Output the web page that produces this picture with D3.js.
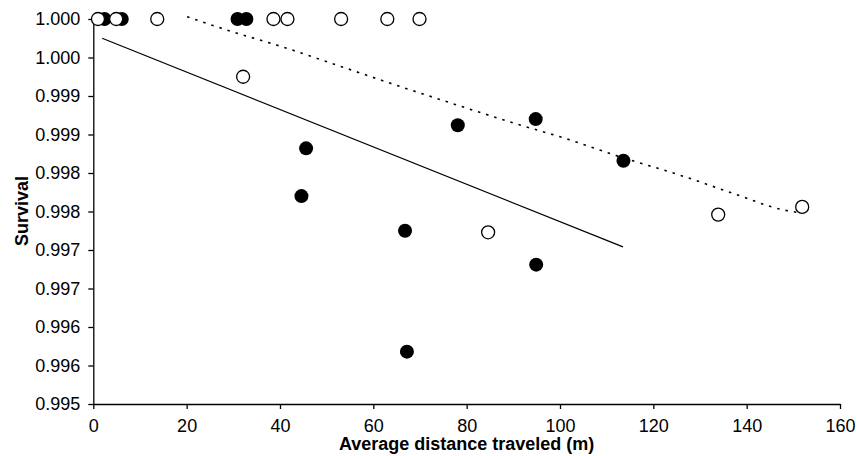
<!DOCTYPE html>
<html><head><meta charset="utf-8">
<script src="https://cdn.jsdelivr.net/npm/d3@7"></script>
<style>body{margin:0;background:#fff;} svg{display:block;}</style>
</head><body>
<svg id="c" width="857" height="456"></svg>
<script>
// Data
const openX = [1.0, 4.9, 13.7, 38.6, 41.6, 53.1, 63.0, 69.9, 32.1, 84.6, 133.9, 151.9];
const openY = [1.0, 1.0, 1.0, 1.0, 1.0, 1.0, 1.0, 1.0, 0.99925, 0.99723, 0.99746, 0.99756];
const filledX = [2.4, 6.1, 30.9, 32.8, 45.6, 78.1, 94.8, 113.6, 44.6, 66.8, 94.9, 67.2];
const filledY = [1.0, 1.0, 1.0, 1.0, 0.99832, 0.99862, 0.99870, 0.99816, 0.99770, 0.99725, 0.99681, 0.99568];
const trendX = [1.9, 113.5];
const trendY = [0.99975, 0.99704];
const curveX = [20.1, 30.0, 39.4, 50.8, 65.4, 78.6, 90.0, 101.6, 112.9, 125.8, 136.9, 147.9, 151.9];
const curveY = [1.00003, 0.99983, 0.99966, 0.99943, 0.99913, 0.99887, 0.99865, 0.99844, 0.99821, 0.99797, 0.99774, 0.99752, 0.99748];
const xTicks = [0, 20, 40, 60, 80, 100, 120, 140, 160];
const yTicks = [0.995, 0.9955, 0.996, 0.9965, 0.997, 0.9975, 0.998, 0.9985, 0.999, 0.9995, 1.0];
const yTickLabels = ["0.995", "0.996", "0.996", "0.997", "0.997", "0.998", "0.998", "0.999", "0.999", "1.000", "1.000"];

const svg = d3.select("#c");
const x = d3.scaleLinear().domain([0, 160]).range([93.3, 840]);
const y = d3.scaleLinear().domain([0.995, 1.0]).range([404, 19]);
const font = "'Liberation Sans', Arial, sans-serif";

const xAxis = svg.append("g").attr("transform", "translate(0,404)")
  .call(d3.axisBottom(x).tickValues(xTicks).tickSize(5).tickPadding(10).tickSizeOuter(0));
const yAxis = svg.append("g").attr("transform", "translate(93.3,0)")
  .call(d3.axisLeft(y).tickValues(yTicks).tickFormat((d, i) => yTickLabels[i]).tickSize(5).tickPadding(8).tickSizeOuter(0));
[xAxis, yAxis].forEach(g => {
  g.selectAll("path, line").attr("stroke", "#000").attr("stroke-width", 1.3);
  g.selectAll("text").attr("fill", "#000").style("font-family", font).style("font-size", "18px");
});

// trend line
svg.append("line")
  .attr("x1", x(trendX[0])).attr("y1", y(trendY[0]))
  .attr("x2", x(trendX[1])).attr("y2", y(trendY[1]))
  .attr("stroke", "#000").attr("stroke-width", 1.3);

// dotted curve
const curve = curveX.map((v, i) => [v, curveY[i]]);
svg.append("path")
  .attr("d", d3.line().x(d => x(d[0])).y(d => y(d[1])).curve(d3.curveMonotoneX)(curve))
  .attr("fill", "none").attr("stroke", "#000").attr("stroke-width", 1.6)
  .attr("stroke-dasharray", "2.5,6");

// filled points
svg.append("g").selectAll("circle").data(filledX.map((v, i) => [v, filledY[i]])).join("circle")
  .attr("cx", d => x(d[0])).attr("cy", d => y(d[1])).attr("r", 7)
  .attr("fill", "#000");
// open points
svg.append("g").selectAll("circle").data(openX.map((v, i) => [v, openY[i]])).join("circle")
  .attr("cx", d => x(d[0])).attr("cy", d => y(d[1])).attr("r", 6.5)
  .attr("fill", "#fff").attr("stroke", "#000").attr("stroke-width", 1.3);

// titles
svg.append("text").attr("x", 466.6).attr("y", 450).attr("text-anchor", "middle")
  .style("font-family", font).style("font-size", "18px").style("font-weight", "bold")
  .text("Average distance traveled (m)");
svg.append("text").attr("transform", "translate(28,211) rotate(-90)").attr("text-anchor", "middle")
  .style("font-family", font).style("font-size", "18px").style("font-weight", "bold")
  .text("Survival");
</script>
</body></html>
